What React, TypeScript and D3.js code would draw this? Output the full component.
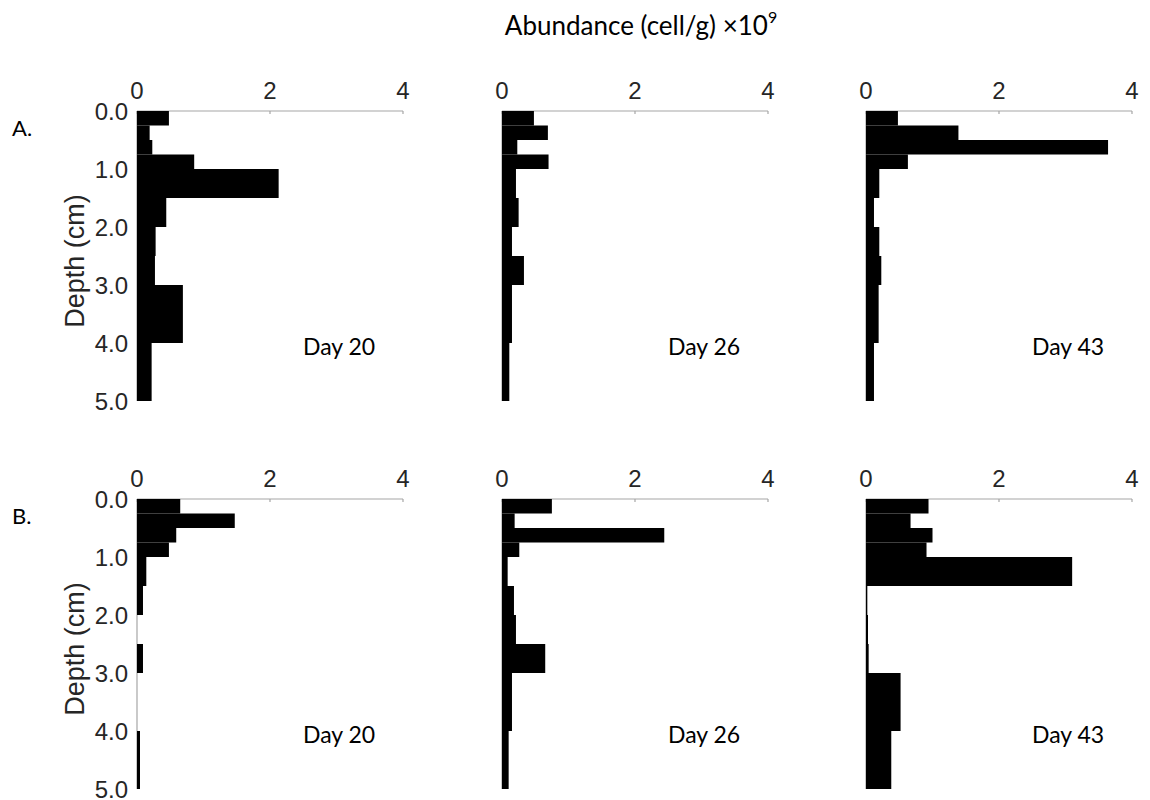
import * as d3 from "d3";

// depth bin edges (cm), shared by every profile
const depthEdges = [0, 0.25, 0.5, 0.75, 1.0, 1.5, 2.0, 2.5, 3.0, 4.0, 5.0];
const depthTicks = [0, 1, 2, 3, 4, 5];
const abundanceTicks = [0, 2, 4];

const days = ["Day 20", "Day 26", "Day 43"];
const rowLabels = ["A.", "B."];

// abundance (cell/g x10^9) per bin
const aDay20 = [0.48, 0.19, 0.23, 0.86, 2.13, 0.44, 0.28, 0.27, 0.69, 0.22];
const aDay26 = [0.48, 0.69, 0.23, 0.7, 0.21, 0.25, 0.15, 0.33, 0.15, 0.11];
const aDay43 = [0.48, 1.39, 3.64, 0.63, 0.2, 0.12, 0.2, 0.23, 0.19, 0.12];
const bDay20 = [0.65, 1.47, 0.59, 0.48, 0.14, 0.09, 0, 0.09, 0, 0.045];
const bDay26 = [0.75, 0.19, 2.44, 0.26, 0.085, 0.18, 0.21, 0.65, 0.15, 0.1];
const bDay43 = [0.94, 0.67, 1.0, 0.91, 3.1, 0.02, 0.03, 0.04, 0.52, 0.38];

const series = [
  [aDay20, aDay26, aDay43],
  [bDay20, bDay26, bDay43],
];

const colX = [137, 502, 866];
const rowY = [111, 499];
const panelW = 266;
const panelH = 290;

const axisColor = "#a6a6a6";
const textColor = "#262626";
const armFont = "'Liberation Sans', Arial, sans-serif";
const labelFont = "Lato, 'Open Sans', sans-serif";

function Panel({ values, day, showY }: { values: number[]; day: string; showY: boolean }) {
  const x = d3.scaleLinear().domain([0, 4]).range([0, panelW]);
  const y = d3.scaleLinear().domain([0, 5]).range([0, panelH]);
  const bins = d3.pairs(depthEdges);

  return (
    <g>
      <line x1={0} x2={0} y1={0} y2={panelH} stroke={axisColor} strokeWidth={1.2} />
      <line x1={0} x2={x(4)} y1={0} y2={0} stroke={axisColor} strokeWidth={1.2} />
      {abundanceTicks.map((t) => (
        <g key={t}>
          <line x1={x(t)} x2={x(t)} y1={0} y2={3} stroke={axisColor} strokeWidth={1.2} />
          <text
            x={x(t)}
            y={-21}
            textAnchor="middle"
            dominantBaseline="central"
            fontFamily={armFont}
            fontSize={24}
            fill={textColor}
          >
            {t}
          </text>
        </g>
      ))}
      {bins.map(([d0, d1], i) => (
        <rect
          key={i}
          x={0}
          y={y(d0)}
          width={x(values[i])}
          height={y(d1) - y(d0)}
          fill="#000"
        />
      ))}
      {showY &&
        depthTicks.map((t) => (
          <text
            key={t}
            x={-9}
            y={y(t)}
            textAnchor="end"
            dominantBaseline="central"
            fontFamily={armFont}
            fontSize={24}
            fill={textColor}
          >
            {t.toFixed(1)}
          </text>
        ))}
      {showY && (
        <text
          transform={`translate(${-62},${panelH / 2 + 5}) rotate(-90)`}
          textAnchor="middle"
          dominantBaseline="central"
          fontFamily={armFont}
          fontSize={27}
          fill={textColor}
        >
          Depth (cm)
        </text>
      )}
      <text
        x={166}
        y={235}
        dominantBaseline="central"
        fontFamily={labelFont}
        fontSize={23}
        fill="#000"
      >
        {day}
      </text>
    </g>
  );
}

export default function App() {
  return (
    <svg
      width={1150}
      height={800}
      style={{ position: "absolute", left: 0, top: 0, background: "#fff" }}
    >
      <text
        x={641}
        y={25}
        textAnchor="middle"
        dominantBaseline="central"
        fontFamily={labelFont}
        fontSize={26}
        fill="#000"
      >
        Abundance (cell/g) ×10
        <tspan dy={-9} fontSize={16}>
          9
        </tspan>
      </text>
      {rowLabels.map((r, ri) => (
        <g key={r}>
          <text
            x={12}
            y={rowY[ri] + 16}
            dominantBaseline="central"
            fontFamily={labelFont}
            fontSize={22}
            fill="#000"
          >
            {r}
          </text>
          {days.map((day, ci) => (
            <g key={day} transform={`translate(${colX[ci]},${rowY[ri]})`}>
              <Panel values={series[ri][ci]} day={day} showY={ci === 0} />
            </g>
          ))}
        </g>
      ))}
    </svg>
  );
}
